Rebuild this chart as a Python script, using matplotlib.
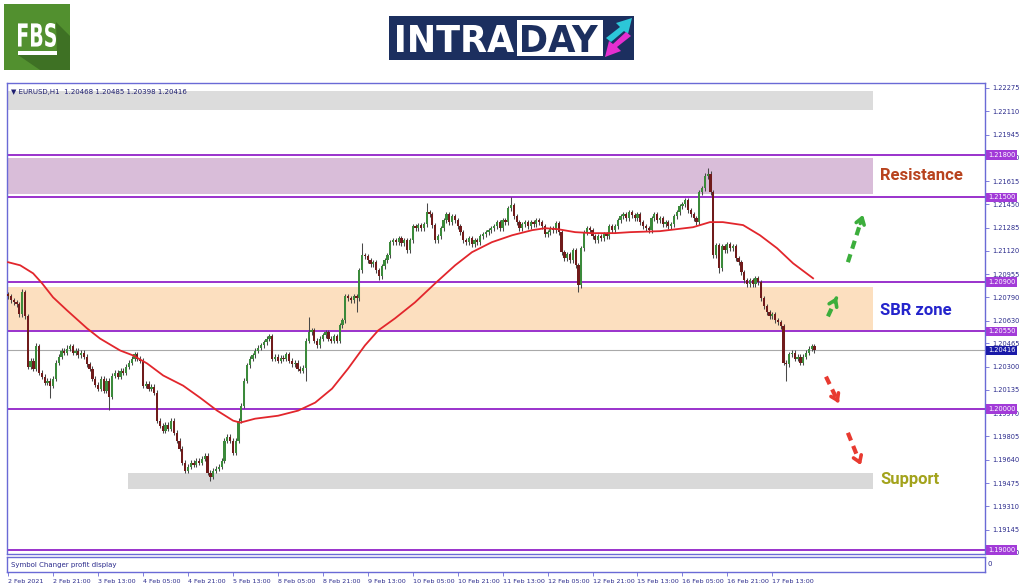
import matplotlib
matplotlib.use('Agg')
import matplotlib.pyplot as plt
from matplotlib.patches import Rectangle, Polygon, PathPatch
from matplotlib.textpath import TextPath
from matplotlib.font_manager import FontProperties
from matplotlib.transforms import Affine2D, blended_transform_factory

W, H = 1024, 587

# EURUSD H1 closes (one per bar)
close = [1.20798, 1.20770, 1.20755, 1.20741, 1.20670, 1.20826, 1.20656, 1.20300, 1.20343, 1.20286,
         1.20443, 1.20258, 1.20229, 1.20187, 1.20201, 1.20165, 1.20215, 1.20329, 1.20371, 1.20414,
         1.20400, 1.20428, 1.20443, 1.20400, 1.20414, 1.20379, 1.20400, 1.20371, 1.20315, 1.20286,
         1.20215, 1.20172, 1.20144, 1.20215, 1.20130, 1.20201, 1.20087, 1.20236, 1.20258, 1.20229,
         1.20272, 1.20258, 1.20300, 1.20329, 1.20357, 1.20386, 1.20357, 1.20343, 1.20165, 1.20180,
         1.20144, 1.20158, 1.20116, 1.19917, 1.19881, 1.19846, 1.19888, 1.19860, 1.19917, 1.19831,
         1.19775, 1.19718, 1.19618, 1.19561, 1.19589, 1.19618, 1.19604, 1.19632, 1.19618, 1.19647,
         1.19668, 1.19547, 1.19518, 1.19561, 1.19575, 1.19589, 1.19632, 1.19775, 1.19803, 1.19775,
         1.19689, 1.19775, 1.19917, 1.20023, 1.20201, 1.20308, 1.20357, 1.20379, 1.20414, 1.20435,
         1.20450, 1.20471, 1.20499, 1.20514, 1.20357, 1.20371, 1.20343, 1.20364, 1.20357, 1.20386,
         1.20343, 1.20315, 1.20329, 1.20286, 1.20272, 1.20293, 1.20485, 1.20542, 1.20556, 1.20485,
         1.20450, 1.20499, 1.20521, 1.20542, 1.20499, 1.20485, 1.20514, 1.20485, 1.20592, 1.20627,
         1.20798, 1.20784, 1.20770, 1.20798, 1.20784, 1.20983, 1.21089, 1.21082, 1.21054, 1.21025,
         1.21040, 1.20983, 1.20940, 1.21011, 1.21054, 1.21089, 1.21182, 1.21196, 1.21182, 1.21210,
         1.21175, 1.21196, 1.21125, 1.21196, 1.21295, 1.21281, 1.21303, 1.21281, 1.21310, 1.21395,
         1.21381, 1.21303, 1.21196, 1.21224, 1.21281, 1.21338, 1.21381, 1.21324, 1.21366, 1.21338,
         1.21295, 1.21253, 1.21196, 1.21182, 1.21210, 1.21168, 1.21196, 1.21182, 1.21224, 1.21239,
         1.21253, 1.21267, 1.21281, 1.21295, 1.21324, 1.21281, 1.21338, 1.21324, 1.21423, 1.21445,
         1.21366, 1.21324, 1.21281, 1.21310, 1.21324, 1.21295, 1.21324, 1.21310, 1.21338, 1.21324,
         1.21295, 1.21239, 1.21253, 1.21281, 1.21267, 1.21317, 1.21253, 1.21111, 1.21068, 1.21096,
         1.21054, 1.21125, 1.21018, 1.20876, 1.21139, 1.21253, 1.21281, 1.21267, 1.21224, 1.21196,
         1.21224, 1.21210, 1.21239, 1.21224, 1.21295, 1.21267, 1.21295, 1.21338, 1.21366, 1.21381,
         1.21352, 1.21395, 1.21374, 1.21352, 1.21381, 1.21324, 1.21295, 1.21281, 1.21267, 1.21352,
         1.21381, 1.21338, 1.21352, 1.21310, 1.21324, 1.21295, 1.21310, 1.21366, 1.21395, 1.21438,
         1.21452, 1.21480, 1.21409, 1.21381, 1.21352, 1.21324, 1.21537, 1.21565, 1.21651, 1.21665,
         1.21537, 1.21089, 1.21160, 1.20997, 1.21153, 1.21125, 1.21168, 1.21139, 1.21153, 1.21068,
         1.21040, 1.20968, 1.20912, 1.20883, 1.20912, 1.20883, 1.20926, 1.20897, 1.20784, 1.20727,
         1.20684, 1.20656, 1.20670, 1.20627, 1.20613, 1.20585, 1.20329, 1.20315, 1.20386, 1.20400,
         1.20357, 1.20371, 1.20329, 1.20371, 1.20400, 1.20428, 1.20443, 1.20416]
first_open = 1.20812
wick = 0.00018
# long wicks visible on the chart
spike_high = {5: 1.20848, 10: 1.20464, 21: 1.20450, 107: 1.20649, 126: 1.21175,
              149: 1.21459, 179: 1.21501, 249: 1.21708}
spike_low = {15: 1.20080, 36: 1.19991, 72: 1.19490, 106: 1.20201, 124: 1.20684,
             132: 1.20912, 203: 1.20826, 253: 1.20961, 277: 1.20201}

# moving average (red line), read at bar positions
ma_idx = [0, 4.3, 8.9, 12.1, 16.0, 21.0, 28.1, 32.7, 39.9, 44.5, 49.5, 55.2, 62.3, 68.3, 74.4,
          80.1, 82.6, 87.9, 96.1, 103.2, 109.3, 115.3, 121.0, 127.0, 131.7, 137.7, 144.8, 152.0,
          159.1, 165.1, 172.2, 179.4, 186.5, 191.1, 195.7, 201.8, 207.8, 216.0, 221.4, 232.0,
          243.8, 249.8, 254.4, 261.6, 267.6, 273.7, 279.4, 286.5]
ma_val = [1.21040, 1.21018, 1.20961, 1.20890, 1.20791, 1.20698, 1.20571, 1.20499, 1.20414,
          1.20379, 1.20322, 1.20237, 1.20165, 1.20080, 1.19988, 1.19917, 1.19903, 1.19931,
          1.19952, 1.19988, 1.20045, 1.20144, 1.20286, 1.20450, 1.20556, 1.20642, 1.20755,
          1.20890, 1.21018, 1.21111, 1.21182, 1.21231, 1.21267, 1.21281, 1.21274, 1.21253,
          1.21246, 1.21246, 1.21253, 1.21260, 1.21288, 1.21324, 1.21324, 1.21303, 1.21231,
          1.21139, 1.21032, 1.20926]

yticks = [1.22275, 1.22110, 1.21945, 1.21780, 1.21615, 1.21450, 1.21285, 1.21120, 1.20955,
          1.20790, 1.20625, 1.20465, 1.20300, 1.20135, 1.19970, 1.19805, 1.19640, 1.19475,
          1.19310, 1.19145, 1.18980]
ytick_labels = ['1.22275', '1.22110', '1.21945', '1.21780', '1.21615', '1.21450', '1.21285',
                '1.21120', '1.20955', '1.20790', '1.20630', '1.20465', '1.20300', '1.20135',
                '1.19970', '1.19805', '1.19640', '1.19475', '1.19310', '1.19145', '1.18980']
xtick_labels = ['2 Feb 2021', '2 Feb 21:00', '3 Feb 13:00', '4 Feb 05:00', '4 Feb 21:00',
                '5 Feb 13:00', '8 Feb 05:00', '8 Feb 21:00', '9 Feb 13:00', '10 Feb 05:00',
                '10 Feb 21:00', '11 Feb 13:00', '12 Feb 05:00', '12 Feb 21:00', '15 Feb 13:00',
                '16 Feb 05:00', '16 Feb 21:00', '17 Feb 13:00']
bars_per_tick = 16

levels = [1.21800, 1.21500, 1.20900, 1.20550, 1.20000, 1.19000]
level_labels = ['1.21800', '1.21500', '1.20900', '1.20550', '1.20000', '1.19000']
last_price = 1.20416
header = '\u25bc EURUSD,H1  1.20468 1.20485 1.20398 1.20416'

# zones: (start bar, low, high, colour)
zone_end = 307.8
zones = [(-1, 1.22120, 1.22255, '#dcdcdc'),
         (-1, 1.21523, 1.21779, '#d9bdd9'),
         (-1, 1.20563, 1.20862, '#fcdfbf'),
         (42.7, 1.19433, 1.19547, '#d9d9d9')]

#################### figure ####################
fig = plt.figure(figsize=(W / 100, H / 100), dpi=100)
fig.patch.set_facecolor('white')
frame = '#6a6ad6'
ax = fig.add_axes([7 / W, (H - 554) / H, 978 / W, 471 / H])
sub = fig.add_axes([7 / W, (H - 572) / H, 978 / W, 15 / H])
xmin, xmax = -0.4, 347.7
ax.set_xlim(xmin, xmax)
ax.set_ylim(1.18972, 1.22310)
sub.set_xlim(xmin, xmax)
sub.set_ylim(0, 1)
for a in (ax, sub):
    for s in a.spines.values():
        s.set_color(frame)
        s.set_linewidth(1.0)

# zones
for x0, lo, hi, col in zones:
    ax.add_patch(Rectangle((x0, lo), zone_end - x0, hi - lo, fc=col, ec='none', zorder=0))

# level lines
for lv in levels:
    ax.axhline(lv, color='#9a32cc', lw=1.4, zorder=2)
ax.axhline(last_price, color='#a9a9a9', lw=0.8, zorder=1)

# candles
opens = [first_open] + close[:-1]
idx = list(range(len(close)))
lows, highs, bottoms, heights, cols = [], [], [], [], []
for i in idx:
    o, c = opens[i], close[i]
    highs.append(spike_high.get(i, max(o, c) + wick))
    lows.append(spike_low.get(i, min(o, c) - wick))
    bottoms.append(min(o, c))
    heights.append(max(abs(c - o), 0.00003))
    cols.append('#3b8a3b' if c >= o else '#701b1b')
ax.vlines(idx, lows, highs, color='#484848', lw=0.75, zorder=3)
ax.bar(idx, heights, bottom=bottoms, width=0.8, color=cols, edgecolor='none', zorder=4)

# moving average
ax.plot(ma_idx, ma_val, color='#e2262c', lw=1.3, zorder=5)

# right price axis
ax.yaxis.tick_right()
ax.set_yticks(yticks)
ax.set_yticklabels(ytick_labels)
ax.tick_params(axis='y', direction='out', length=3, width=0.6, color=frame,
               labelsize=4.8, labelcolor='#2b2b8c', pad=2)
ax.set_xticks([])
trans = blended_transform_factory(ax.transAxes, ax.transData)
for lv, lab in zip(levels, level_labels):
    ax.text(1.003, lv, lab, transform=trans, ha='left', va='center', fontsize=4.8, color='white',
            bbox=dict(boxstyle='square,pad=0.25', fc='#a23bd8', ec='none'), clip_on=False, zorder=6)
ax.text(1.003, last_price, '1.20416', transform=trans, ha='left', va='center', fontsize=4.8,
        color='white', bbox=dict(boxstyle='square,pad=0.25', fc='#1a1aa8', ec='none'),
        clip_on=False, zorder=6)

ax.text(0.004, 0.988, header, transform=ax.transAxes, fontsize=5, color='#1e1e70', va='top')

# sub window + time axis
sub.set_yticks([])
sub.set_xticks([i * bars_per_tick for i in range(len(xtick_labels))])
sub.set_xticklabels(xtick_labels)
sub.tick_params(axis='x', direction='out', length=3, width=0.6, color=frame,
                labelsize=4.6, labelcolor='#2b2b8c', pad=2)
for lbl in sub.get_xticklabels():
    lbl.set_horizontalalignment('left')
sub.text(0.004, 0.5, 'Symbol Changer profit display', transform=sub.transAxes, fontsize=5,
         color='#2b2b8c', va='center')
sub.text(1.003, 0.5, '0', transform=sub.transAxes, fontsize=5, color='#2b2b8c', va='center')

# zone captions
ax.text(310.3, 1.21651, 'Resistance', color='#b8431e', fontsize=12, fontweight='bold',
        va='center', family='Roboto')
ax.text(310.3, 1.20698, 'SBR zone', color='#2424cc', fontsize=12, fontweight='bold',
        va='center', family='Roboto')
ax.text(310.3, 1.19497, 'Support', color='#a3a31c', fontsize=12, fontweight='bold',
        va='center', family='Roboto')

# dashed scenario arrows
def dashed_arrow(x0, y0, x1, y1, col):
    xm = x0 + (x1 - x0) * 0.72
    ym = y0 + (y1 - y0) * 0.72
    ax.plot([x0, xm], [y0, ym], color=col, lw=3, dashes=(2, 1.4), solid_capstyle='butt', zorder=6)
    ax.annotate('', xy=(x1, y1), xytext=(xm, ym),
                arrowprops=dict(arrowstyle='->,head_length=0.45,head_width=0.3', color=col, lw=2.6),
                zorder=6)

dashed_arrow(298.9, 1.21040, 304.6, 1.21395, '#3cae3c')
dashed_arrow(291.8, 1.20656, 295.4, 1.20812, '#3cae3c')
dashed_arrow(291.1, 1.20229, 296.1, 1.20023, '#e83a30')
dashed_arrow(298.9, 1.19831, 303.9, 1.19583, '#e83a30')

#################### logos ####################
def pix_rect(x0, y0, x1, y1, col):
    fig.add_artist(Rectangle((x0 / W, 1 - y1 / H), (x1 - x0) / W, (y1 - y0) / H,
                             transform=fig.transFigure, fc=col, ec='none'))

def pix_poly(pts, col):
    fig.add_artist(Polygon([(x / W, 1 - y / H) for x, y in pts], closed=True,
                           transform=fig.transFigure, fc=col, ec='none'))

def fit_text(s, x0, y0, x1, y1, col):
    tp = TextPath((0, 0), s, size=100, prop=FontProperties(family='DejaVu Sans', weight='bold'))
    bb = tp.get_extents()
    tr = Affine2D().translate(-bb.x0, -bb.y0).scale((x1 - x0) / bb.width, (y1 - y0) / bb.height)
    tr = tr.translate(x0, H - y1)
    fig.add_artist(PathPatch(tp, transform=tr, fc=col, ec='none'))

# FBS
pix_rect(4, 4, 70, 70, '#52902f')
pix_poly([(56, 22), (70, 36), (70, 70), (40, 70), (18, 55), (57, 55)], '#3e7124')
fit_text('FBS', 18, 23, 56, 47, 'white')
pix_rect(18, 51, 57, 55, 'white')

# INTRADAY
pix_rect(389, 16, 634, 60, '#1c2f5f')
pix_rect(517, 20, 603, 56, 'white')
fit_text('INTRA', 397, 25, 514, 52, 'white')
fit_text('DAY', 522, 25, 598, 52, '#1c2f5f')
pix_poly([(606, 38), (620, 27), (616, 23), (632, 18), (628, 34), (624, 31), (611, 42)], '#2cc6d8')
pix_poly([(631, 36), (617, 47), (621, 51), (605, 57), (609, 41), (613, 44), (626, 32)], '#e52fd0')

fig.savefig('out.png', dpi=100)
